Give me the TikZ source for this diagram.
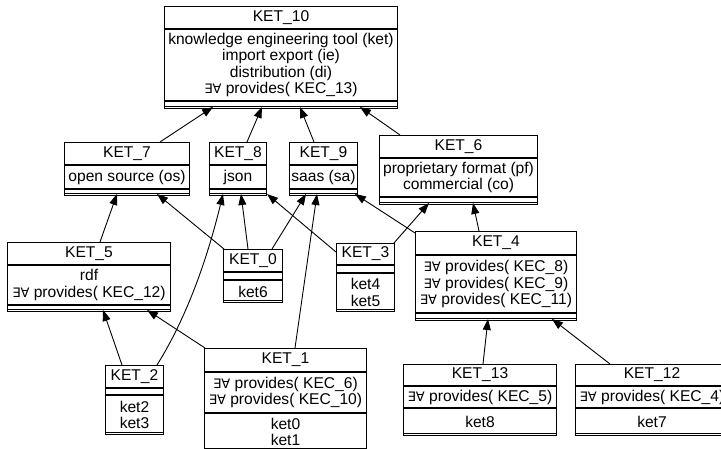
\documentclass[tikz,border=0pt]{standalone}
\usepackage{fontspec}
\setmainfont{Liberation Sans}
\newfontfamily\symfont{DejaVu Sans}
\usetikzlibrary{arrows.meta}
\tikzstyle{cls}=[rectangle,draw=black,line width=1pt,inner sep=0pt,anchor=north west]
\tikzstyle{part}=[rectangle,draw=black,line width=1pt,inner sep=0pt,anchor=north west,
  align=center,font=\fontsize{15.6}{16.3}\selectfont]
\tikzstyle{dep}=[line width=0.9pt,-{Triangle[length=11pt,width=8pt]}]
\newcommand{\ea}{{\symfont\fontsize{13}{16.3}\selectfont ∃∀}}
% name, position, width, heights of the three parts, texts of the three parts
\newcommand{\umlclass}[9]{%
  \node[cls, minimum width=#3, minimum height=#4+#5+#6] (#1) at #2 {};
  \node[part, minimum width=#3, minimum height=#4] (#1 title) at (#1.north west) {#7};
  \node[part, minimum width=#3, minimum height=#5] (#1 attr) at (#1 title.south west) {#8};
  \node[part, minimum width=#3, minimum height=#6] (#1 op) at (#1 attr.south west) {#9};
}
\begin{document}
\begin{tikzpicture}[x=1pt,y=-1pt]
  \clip (0,0) rectangle (721,449);

  \umlclass{ket10}{(164,6)}{233}{22}{71}{7}{KET\_10}
    {knowledge engineering tool (ket)\\import export (ie)\\distribution (di)\\\ea\ provides( KEC\_13)}{}

  \umlclass{ket7}{(64,142)}{125}{22}{23}{6}{KET\_7}{open source (os)}{}
  \umlclass{ket8}{(209,142)}{57}{22}{23}{6}{KET\_8}{json}{}
  \umlclass{ket9}{(289,142)}{68}{22}{23}{6}{KET\_9}{saas (sa)}{}
  \umlclass{ket6}{(379,135)}{158}{22}{38}{7}{KET\_6}{proprietary format (pf)\\commercial (co)}{}

  \umlclass{ket5}{(7,242)}{163}{22}{39}{6}{KET\_5}{rdf\\\ea\ provides( KEC\_12)}{}
  \umlclass{ket0}{(223,249)}{59}{22}{7}{22}{KET\_0}{}{ket6}
  \umlclass{ket3}{(336,243)}{58}{21}{7}{38}{KET\_3}{}{ket4\\ket5}
  \umlclass{ket4}{(415,231)}{161}{23}{57}{7}{KET\_4}
    {\ea\ provides( KEC\_8)\\\ea\ provides( KEC\_9)\\\ea\ provides( KEC\_11)}{}

  \umlclass{ket2}{(105,365)}{58}{22}{6}{39}{KET\_2}{}{ket2\\ket3}
  \umlclass{ket1}{(204,348)}{162}{23}{40}{37}{KET\_1}
    {\ea\ provides( KEC\_6)\\\ea\ provides( KEC\_10)}{ket0\\ket1}
  \umlclass{ket13}{(403,364)}{153}{21}{21}{27}{KET\_13}{\ea\ provides( KEC\_5)}{ket8}
  \umlclass{ket12}{(575,364)}{153}{21}{21}{27}{KET\_12}{\ea\ provides( KEC\_4)}{ket7}

  % generalisations
  \draw[dep] ([xshift=96pt]ket7.north west) -- ([xshift=49pt]ket10.south west);
  \draw[dep] ([xshift=38pt]ket8.north west) -- ([xshift=98pt]ket10.south west);
  \draw[dep] ([xshift=25pt]ket9.north west) -- ([xshift=136pt]ket10.south west);
  \draw[dep] ([xshift=21pt]ket6.north west) -- ([xshift=196pt]ket10.south west);

  \draw[dep] ([xshift=93pt]ket5.north west) -- ([xshift=53pt]ket7.south west);
  \draw[dep] ([xshift=1pt]ket0.north west) -- ([xshift=93pt]ket7.south west);
  \draw[dep] ([xshift=25pt]ket0.north west) -- ([xshift=32pt]ket8.south west);
  \draw[dep] ([xshift=49pt]ket0.north west) -- ([xshift=17pt]ket9.south west);
  \draw[dep] ([yshift=-9pt]ket3.north west) -- ([xshift=58pt]ket8.south west);
  \draw[dep] ([xshift=-1pt]ket3.north east) -- ([xshift=50pt]ket6.south west);
  \draw[dep] ([yshift=-2pt]ket4.north west) -- ([xshift=66pt]ket9.south west);
  \draw[dep] ([xshift=64pt]ket4.north west) -- ([xshift=94pt]ket6.south west);

  \draw[dep] ([xshift=17pt]ket2.north west) -- ([xshift=96pt]ket5.south west);
  \draw[dep] ([xshift=52pt]ket2.north west) .. controls +(32,-51) and +(-14,58)
    .. ([xshift=14pt]ket8.south west);
  \draw[dep] ([xshift=1pt]ket1.north west) -- ([xshift=140pt]ket5.south west);
  \draw[dep] ([xshift=91pt]ket1.north west) -- ([xshift=28pt]ket9.south west);
  \draw[dep] ([xshift=80pt]ket13.north west) -- ([xshift=73pt]ket4.south west);
  \draw[dep] ([xshift=35pt]ket12.north west) -- ([xshift=137pt]ket4.south west);
\end{tikzpicture}
\end{document}
